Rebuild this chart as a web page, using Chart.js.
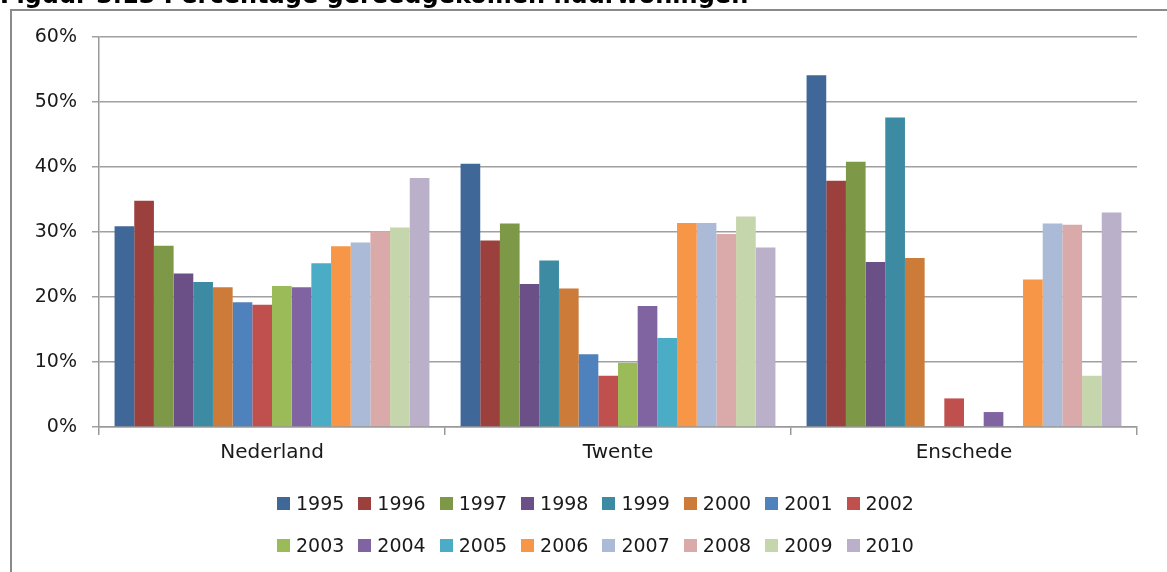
<!DOCTYPE html>
<html>
<head>
<meta charset="utf-8">
<script src="https://cdn.jsdelivr.net/npm/chart.js@4.4.0/dist/chart.umd.min.js"></script>
<style>
  html, body { margin: 0; padding: 0; background: #fff; overflow: hidden; }
  #wrap { position: absolute; left: 0; top: 0; width: 1167px; height: 572px; }
  #title { position: absolute; left: 0px; top: -16px; font: bold 24px "DejaVu Sans", sans-serif; line-height: 23px; color: #000; white-space: nowrap; }
  #frame { position: absolute; left: 10px; top: 9px; width: 1300px; height: 700px; border-left: 2px solid #8a8a8a; border-top: 2px solid #8a8a8a; pointer-events: none; }
  #legend { position: absolute; left: 277px; top: 492px; font: 19px "DejaVu Sans", sans-serif; color: #1a1a1a; }
  .row { display: flex; height: 22px; align-items: center; margin-bottom: 20px; white-space: nowrap; }
  .item { display: flex; align-items: center; margin-right: 14px; }
  .box { width: 13px; height: 13px; margin-right: 6px; }
</style>
</head>
<body>
<div id="wrap"><canvas id="c"></canvas></div>
<div id="title">Figuur 3.13 Percentage gereedgekomen huurwoningen</div>
<div id="frame"></div>
<div id="legend"></div>
<script>
const categories = ['Nederland', 'Twente', 'Enschede'];
const years = ['1995','1996','1997','1998','1999','2000','2001','2002','2003','2004','2005','2006','2007','2008','2009','2010'];
const yTicks = [0, 10, 20, 30, 40, 50, 60];

const v1995 = [30.9, 40.5, 54.1];
const v1996 = [34.8, 28.7, 37.9];
const v1997 = [27.9, 31.3, 40.8];
const v1998 = [23.6, 22.0, 25.4];
const v1999 = [22.3, 25.6, 47.6];
const v2000 = [21.5, 21.3, 26.0];
const v2001 = [19.2, 11.2, null];
const v2002 = [18.8, 7.9, 4.4];
const v2003 = [21.7, 9.9, null];
const v2004 = [21.5, 18.6, 2.3];
const v2005 = [25.2, 13.7, null];
const v2006 = [27.8, 31.4, 22.7];
const v2007 = [28.4, 31.4, 31.3];
const v2008 = [30.1, 29.7, 31.1];
const v2009 = [30.7, 32.4, 7.9];
const v2010 = [38.3, 27.6, 33.0];

const seriesValues = [v1995, v1996, v1997, v1998, v1999, v2000, v2001, v2002, v2003, v2004, v2005, v2006, v2007, v2008, v2009, v2010];
const colors = ['#3F6898','#9C403D','#7D9948','#6A5087','#3C8BA2','#CC7B38','#4F81BD','#C0504D','#9BBB59','#8064A2','#4BACC6','#F79646','#AABAD7','#D9AAA9','#C6D6AC','#BAB0CA'];

const datasets = years.map((y, i) => ({
  label: y,
  data: seriesValues[i],
  backgroundColor: colors[i],
  borderWidth: 0,
  categoryPercentage: 0.91,
  barPercentage: 1.0
}));

new Chart(document.getElementById('c'), {
  type: 'bar',
  data: { labels: categories, datasets },
  options: {
    responsive: true,
    maintainAspectRatio: false,
    animation: false,
    layout: { padding: { top: 37, right: 30, left: 0, bottom: 0 } },
    plugins: { legend: { display: false }, tooltip: { enabled: false } },
    scales: {
      x: {
        afterFit: (s) => { s.height = 145; },
        grid: { offset: true, drawOnChartArea: false, drawTicks: true, tickLength: 8, color: '#999999', lineWidth: 1.5 },
        border: { color: '#999999', width: 1.5 },
        ticks: { padding: 6, color: '#1a1a1a', font: { family: 'DejaVu Sans', size: 20 } }
      },
      y: {
        min: 0, max: 60,
        afterFit: (s) => { s.width = 99; },
        afterBuildTicks: (s) => { s.ticks = yTicks.map(v => ({ value: v })); },
        grid: { color: '#a0a0a0', lineWidth: 1.5, tickLength: 7 },
        border: { color: '#999999', width: 1.5 },
        ticks: { padding: 15, color: '#1a1a1a', font: { family: 'DejaVu Sans', size: 19 }, callback: (v) => v + '%' }
      }
    }
  }
});

// legend
const legend = document.getElementById('legend');
[years.slice(0, 8), years.slice(8)].forEach((rowYears, r) => {
  const row = document.createElement('div');
  row.className = 'row';
  rowYears.forEach((y, j) => {
    const idx = r * 8 + j;
    const it = document.createElement('div');
    it.className = 'item';
    const b = document.createElement('span');
    b.className = 'box';
    b.style.background = colors[idx];
    const t = document.createElement('span');
    t.textContent = y;
    it.appendChild(b); it.appendChild(t);
    row.appendChild(it);
  });
  legend.appendChild(row);
});
</script>
</body>
</html>
